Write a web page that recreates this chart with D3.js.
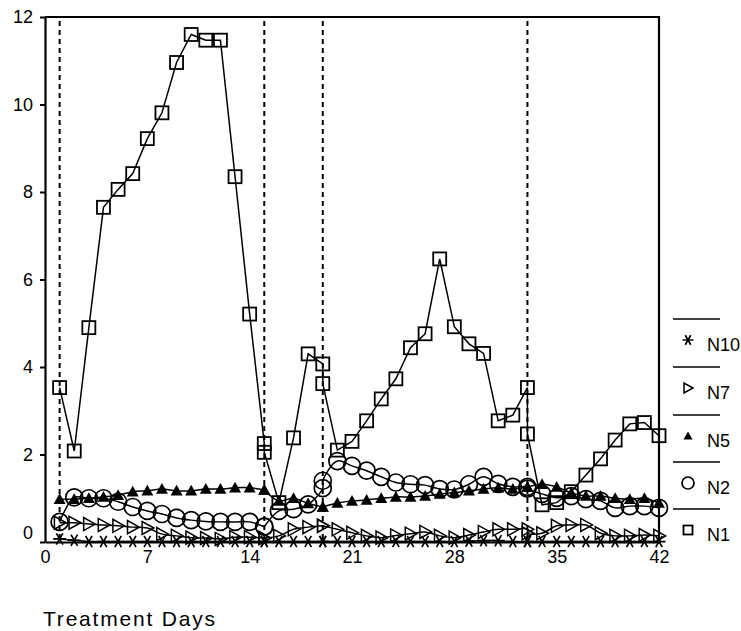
<!DOCTYPE html>
<html>
<head>
<meta charset="utf-8">
<script src="https://cdn.jsdelivr.net/npm/d3@7"></script>
<style>
body { margin: 0; background: #fff; }
svg { font-family: "Liberation Sans", Arial, sans-serif; }
</style>
</head>
<body>
<div id="chart"></div>
<script>
// measurement days (days 15, 19 and 33 were measured twice: before / after treatment)
var days = [1,2,3,4,5,6,7,8,9,10,11,12,13,14,15,15,16,17,18,19,19,20,21,22,23,24,25,26,27,28,29,30,31,32,33,33,34,35,36,37,38,39,40,41,42];
var treatDays = [1, 15, 19, 33];
var xTicks = [0, 7, 14, 21, 28, 35, 42];
var yTicks = [0, 2, 4, 6, 8, 10, 12];

var n1 = [3.53,2.08,4.9,7.65,8.06,8.42,9.22,9.81,10.96,11.6,11.47,11.47,8.35,5.21,2.25,2.05,0.9,2.38,4.3,4.07,3.62,2.1,2.3,2.77,3.27,3.73,4.44,4.76,6.47,4.92,4.53,4.31,2.77,2.9,3.53,2.47,0.85,0.9,1.15,1.53,1.9,2.33,2.7,2.73,2.43];
var n2 = [0.46,1.02,1.0,1.0,0.92,0.8,0.71,0.64,0.55,0.5,0.47,0.46,0.46,0.46,0.35,0.35,0.71,0.75,0.86,1.23,1.4,1.85,1.74,1.63,1.49,1.36,1.32,1.3,1.21,1.2,1.32,1.49,1.33,1.26,1.26,1.22,1.1,1.01,1.05,0.98,0.94,0.78,0.82,0.82,0.78];
var n5 = [0.98,0.98,1.0,1.03,1.07,1.15,1.17,1.21,1.17,1.17,1.21,1.21,1.24,1.24,1.19,1.19,0.94,1.0,0.88,0.8,0.8,0.89,0.94,0.96,1.0,1.03,1.03,1.05,1.1,1.13,1.17,1.21,1.24,1.21,1.26,1.26,1.32,1.26,1.12,1.05,1.05,1.0,0.98,1.0,0.89];
var n7 = [0.44,0.44,0.41,0.39,0.37,0.34,0.32,0.18,0.14,0.1,0.09,0.07,0.11,0.11,0.09,0.09,0.14,0.29,0.34,0.37,0.37,0.29,0.21,0.14,0.1,0.15,0.19,0.23,0.14,0.1,0.16,0.23,0.29,0.29,0.29,0.2,0.2,0.37,0.39,0.39,0.2,0.14,0.14,0.16,0.14];
var n10 = [0.07,0.04,0.01,0.01,0.01,0.01,0.01,0.01,0.01,0.01,0.01,0.01,0.01,0.01,0.01,0.01,0.01,0.01,0.01,0.01,0.01,0.01,0.01,0.01,0.01,0.01,0.01,0.01,0.01,0.01,0.02,0.03,0.03,0.01,0.01,0.01,0.01,0.01,0.01,0.01,0.01,0.01,0.01,0.01,0.01];

var margin = {top: 17, left: 45},
    w = 614,
    h = 525;

var series = [
	{name: "N10", values: n10, shape: "star"},
	{name: "N7", values: n7, shape: "tri-right"},
	{name: "N5", values: n5, shape: "tri-up"},
	{name: "N2", values: n2, shape: "circle"},
	{name: "N1", values: n1, shape: "square"}
];

var svg = d3.select("#chart")
	.append("svg")
	.attr("width", 741)
	.attr("height", 631);

var g = svg.append("g")
	.attr("transform", "translate(" + margin.left + "," + margin.top + ")");

/*Scales*/
var xScale = d3.scaleLinear().domain([0, 42]).range([0, w]);
var yScale = d3.scaleLinear().domain([0, 12]).range([h, 0]);

/*Treatment lines*/
g.selectAll("line.treat")
	.data(treatDays)
	.enter()
	.append("line")
	.attr("class", "treat")
	.attr("x1", function(d) { return xScale(d); })
	.attr("x2", function(d) { return xScale(d); })
	.attr("y1", 4)
	.attr("y2", h)
	.attr("stroke", "#000")
	.attr("stroke-width", 2)
	.attr("stroke-dasharray", "5,4");

/*Marker shapes*/
function marker(sel, shape, s) {
	if (shape === "square") {
		sel.append("rect")
			.attr("x", -s / 2).attr("y", -s / 2)
			.attr("width", s).attr("height", s)
			.attr("fill", "none").attr("stroke", "#000").attr("stroke-width", 1.8);
	} else if (shape === "circle") {
		sel.append("circle")
			.attr("r", s / 2)
			.attr("fill", "none").attr("stroke", "#000").attr("stroke-width", 1.7);
	} else if (shape === "tri-up") {
		var a = s / 2;
		sel.append("path")
			.attr("d", "M0," + (-a) + "L" + a + "," + (a * 0.8) + "L" + (-a) + "," + (a * 0.8) + "Z")
			.attr("fill", "#000");
	} else if (shape === "tri-right") {
		var b = s / 2;
		sel.append("path")
			.attr("d", "M" + b + ",0L" + (-b * 0.8) + "," + (-b) + "L" + (-b * 0.8) + "," + b + "Z")
			.attr("fill", "none").attr("stroke", "#000").attr("stroke-width", 1.5);
	} else {
		var r = s / 2;
		var p = "";
		[0, 60, 120].forEach(function(ang) {
			var t = ang * Math.PI / 180;
			p += "M" + (-r * Math.cos(t)) + "," + (-r * Math.sin(t)) + "L" + (r * Math.cos(t)) + "," + (r * Math.sin(t));
		});
		sel.append("path")
			.attr("d", p)
			.attr("stroke", "#000").attr("stroke-width", 1.7).attr("fill", "none");
	}
}

var sizes = {"square": 13, "circle": 17, "tri-up": 12, "tri-right": 13, "star": 13};

/*Lines + points*/
series.forEach(function(s) {
	var pts = days.map(function(d, i) { return {day: d, value: s.values[i]}; });
	var line = d3.line()
		.curve(s.shape === "square" ? d3.curveLinear : d3.curveCatmullRom.alpha(0.5))
		.x(function(d) { return xScale(d.day); })
		.y(function(d) { return yScale(d.value); });
	g.append("path")
		.datum(pts)
		.attr("d", line)
		.attr("fill", "none")
		.attr("stroke", "#000")
		.attr("stroke-width", 1.5);
	g.selectAll("g.pt-" + s.name)
		.data(pts)
		.enter()
		.append("g")
		.attr("class", "pt-" + s.name)
		.attr("transform", function(d) {
			return "translate(" + xScale(d.day) + "," + yScale(d.value) + ")";
		})
		.each(function() { marker(d3.select(this), s.shape, sizes[s.shape]); });
});

/*Axes*/
var xAxis = d3.axisBottom(xScale).tickValues(xTicks).tickSize(0).tickPadding(8).tickSizeOuter(0);
var yAxis = d3.axisLeft(yScale).tickValues(yTicks).tickSize(5).tickPadding(7).tickSizeOuter(0);

var gx = g.append("g")
	.attr("transform", "translate(0," + h + ")")
	.call(xAxis);
var gy = g.append("g").call(yAxis);

[gx, gy].forEach(function(ax) {
	ax.select(".domain").attr("stroke-width", 2.2);
	ax.selectAll(".tick line").attr("stroke-width", 2);
	ax.selectAll(".tick text")
		.attr("font-size", 18)
		.attr("font-family", "Liberation Sans, Arial, sans-serif")
		.attr("fill", "#000");
});
gy.selectAll(".tick text").filter(function(d) { return d === 0; }).attr("dy", "-0.2em");

/*Frame (top and right)*/
g.append("path")
	.attr("d", "M0,0H" + w + "V" + h)
	.attr("fill", "none")
	.attr("stroke", "#000")
	.attr("stroke-width", 2.2);

/*Axis title*/
svg.append("text")
	.attr("x", 43)
	.attr("y", 626)
	.attr("font-size", 21)
	.attr("letter-spacing", "1.8px")
	.text("Treatment Days");

/*Legend*/
var legend = svg.append("g").attr("transform", "translate(673,0)");
var legY = [319, 367, 415, 462, 509];
legend.selectAll("line.sep")
	.data(legY)
	.enter()
	.append("line")
	.attr("x1", 0).attr("x2", 47)
	.attr("y1", function(d) { return d; })
	.attr("y2", function(d) { return d; })
	.attr("stroke", "#000")
	.attr("stroke-width", 1.5);

var legSizes = {"square": 9, "circle": 12, "tri-up": 9, "tri-right": 10, "star": 11};
var item = legend.selectAll("g.item")
	.data(series)
	.enter()
	.append("g")
	.attr("class", "item")
	.attr("transform", function(d, i) { return "translate(15," + (legY[i] + 21) + ")"; });
item.each(function(d) { marker(d3.select(this), d.shape, legSizes[d.shape]); });
item.append("text")
	.attr("x", 19)
	.attr("y", 11)
	.attr("font-size", 18)
	.text(function(d) { return d.name; });
</script>
</body>
</html>
